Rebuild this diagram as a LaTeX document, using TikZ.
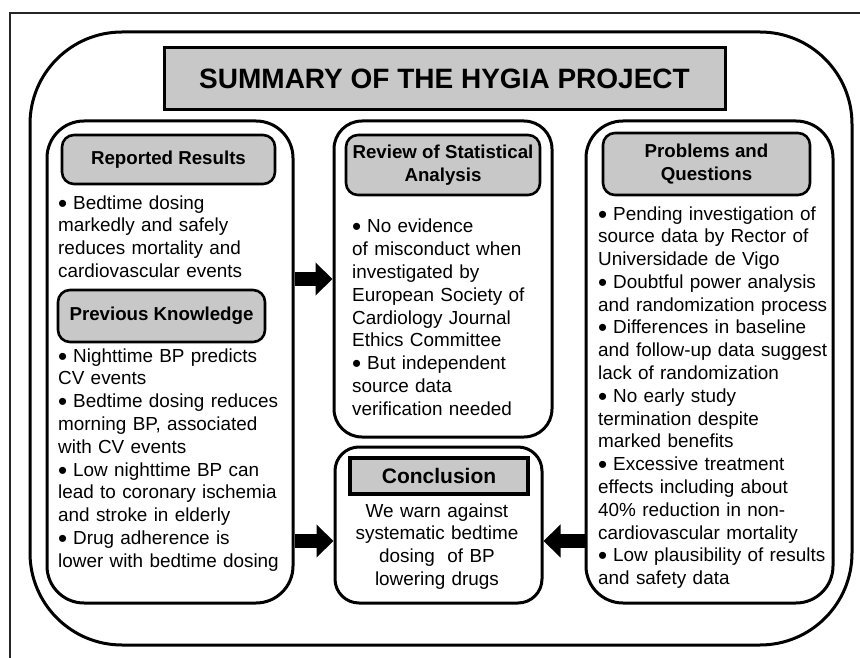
\documentclass[tikz,border=0pt]{standalone}
\usepackage{fontspec}
\setmainfont{Liberation Sans}
\usetikzlibrary{arrows.meta}
\definecolor{boxgray}{RGB}{200,200,200}
% larger list bullet (with its following gap) used in the panel texts
\newcommand\bulletmark{\makebox[15pt][l]{\raisebox{-3pt}{\fontsize{26}{26}\selectfont •}}}
\begin{document}
\begin{tikzpicture}[x=1pt,y=-1pt,
  panel/.style={draw=black, line width=3pt, inner sep=0pt, fill=white},
  headbox/.style={draw=black, line width=2.6pt, fill=boxgray, rounded corners=12pt,
    inner sep=0pt, align=center, font=\bfseries\fontsize{18.7}{23}\selectfont},
  bodytext/.style={anchor=base west, inner sep=0pt, text width=250pt, align=left,
    font=\fontsize{18.9}{22.8}\selectfont},
  blockarrow/.style={line width=14pt, -{Triangle[length=17pt,width=32pt]}}]

% page and frame
\fill[white] (0,0) rectangle (860,658);
\useasboundingbox (0,0) rectangle (860,658);
\draw[line width=2pt, black!85] (10,658) -- (10,13) -- (860,13);

% outer rounded frame
\node[panel, rounded corners=92pt, minimum width=822pt, minimum height=613pt] (outer) at (441,338.5) {};

% title
\node[draw=black, line width=3pt, fill=boxgray, inner sep=0pt, minimum width=561pt, minimum height=62pt,
  font=\bfseries\fontsize{28}{30}\selectfont] (title) at (444.5,79) {SUMMARY OF THE HYGIA PROJECT};

% panels
\node[panel, rounded corners=37pt, minimum width=246pt, minimum height=482pt] (L) at (170,362) {};
\node[panel, rounded corners=28pt, minimum width=218pt, minimum height=316pt] (M1) at (443,279) {};
\node[panel, rounded corners=24pt, minimum width=207pt, minimum height=156pt] (M2) at (438.5,525) {};
\node[panel, rounded corners=37pt, minimum width=247pt, minimum height=482pt] (R) at (709.5,362) {};

% panel headers
\node[headbox, minimum width=213pt, minimum height=49pt] (h1) at (168.5,159.5) {Reported Results};
\node[headbox, minimum width=194pt, minimum height=60pt] (h2) at (443,165) {Review of Statistical\\Analysis};
\node[headbox, minimum width=207pt, minimum height=62pt] (h3) at (706.5,164) {Problems and\\Questions};
\node[headbox, minimum width=207pt, minimum height=52pt] (h4) at (161.5,316) {Previous Knowledge};
\node[draw=black, line width=3.2pt, fill=boxgray, inner sep=0pt, minimum width=178pt, minimum height=36pt,
  font=\bfseries\fontsize{21}{24}\selectfont] (h5) at (439,476) {Conclusion};

% panel texts
\node[bodytext] (t1) at (58,209) {\bulletmark Bedtime dosing\\markedly and safely\\reduces mortality and\\cardiovascular events};
\node[bodytext] (t2) at (58,362) {\bulletmark Nighttime BP predicts\\CV events\\\bulletmark Bedtime dosing reduces\\morning BP, associated\\with CV events\\\bulletmark Low nighttime BP can\\lead to coronary ischemia\\and stroke in elderly\\\bulletmark Drug adherence is\\lower with bedtime dosing};
\node[bodytext] (t3) at (352,233) {\bulletmark No evidence\\of misconduct when\\investigated by\\European Society of\\Cardiology Journal\\Ethics Committee\\\bulletmark But independent\\source data\\verification needed};
\node[bodytext, anchor=base, align=center, text width=200pt] (t4) at (437,517) {We warn against\\systematic bedtime\\dosing\ \ of BP\\lowering drugs};
\node[bodytext] (t5) at (598,220) {\bulletmark Pending investigation of\\source data by Rector of\\Universidade de Vigo\\\bulletmark Doubtful power analysis\\and randomization process\\\bulletmark Differences in baseline\\and follow-up data suggest\\lack of randomization\\\bulletmark No early study\\termination despite\\marked benefits\\\bulletmark Excessive treatment\\effects including about\\40\% reduction in non-\\cardiovascular mortality\\\bulletmark Low plausibility of results\\and safety data};

% connectors
\coordinate (row1) at (0,279);
\coordinate (row2) at (0,541);
\draw[blockarrow] (L.east |- row1) -- (M1.west |- row1);
\draw[blockarrow] (L.east |- row2) -- (M2.west |- row2);
\draw[blockarrow] (R.west |- row2) -- (M2.east |- row2);
\end{tikzpicture}
\end{document}
